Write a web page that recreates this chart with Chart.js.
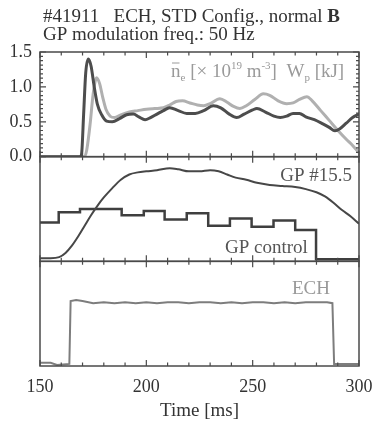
<!DOCTYPE html>
<html>
<head>
<meta charset="utf-8">
<script src="https://cdn.jsdelivr.net/npm/chart.js@4/dist/chart.umd.min.js"></script>
<style>
  html, body { margin: 0; padding: 0; background: #fff; }
</style>
</head>
<body>
<canvas id="myChart" width="372" height="423"></canvas>
<script>
// top panel: line-averaged density (dark) and stored energy (light)
const neTime  = [150, 169, 169.6, 170.5, 171.5, 172.7, 174, 175.5, 177, 179, 181.3, 184, 187.6, 190.7, 193.9, 196.5, 199.4, 202, 205, 208, 211, 215, 219, 223, 227, 231.5, 235, 239, 242.5, 246, 250, 252, 256, 260, 263, 266, 269, 272, 275, 279, 283, 286, 288.7, 291, 294, 297, 300];
const neValue = [0, 0, 0.05, 0.6, 1.2, 1.4, 1.3, 1.0, 0.75, 0.6, 0.51, 0.5, 0.55, 0.6, 0.61, 0.57, 0.53, 0.56, 0.61, 0.66, 0.7, 0.66, 0.62, 0.62, 0.66, 0.73, 0.7, 0.61, 0.56, 0.61, 0.67, 0.69, 0.64, 0.58, 0.56, 0.58, 0.62, 0.62, 0.57, 0.53, 0.47, 0.42, 0.37, 0.4, 0.48, 0.56, 0.61];
const wpTime  = [150, 171, 172, 173.5, 175, 176.6, 178, 179.5, 181, 183, 185, 188, 192, 196, 200, 204, 208, 211, 214, 217, 220.5, 224, 227, 230, 234.6, 238, 241, 244, 247, 251, 255, 258, 262, 266, 269, 272, 275.5, 278, 282, 286, 290, 294, 297, 300];
const wpValue = [0, 0, 0.1, 0.45, 0.9, 1.13, 1.05, 0.85, 0.68, 0.58, 0.56, 0.6, 0.64, 0.66, 0.68, 0.69, 0.7, 0.74, 0.79, 0.8, 0.77, 0.74, 0.73, 0.76, 0.83, 0.78, 0.72, 0.69, 0.73, 0.82, 0.9, 0.88, 0.8, 0.76, 0.77, 0.82, 0.86, 0.8, 0.66, 0.52, 0.38, 0.25, 0.16, 0.06];

// middle panel: gas puff signal and gas puff control (a.u.)
const gpTime  = [150, 155, 159, 162, 165, 168, 171, 174, 177, 180, 184, 188, 192, 196, 200, 205, 211, 215, 220, 225, 230, 234, 238, 242, 247, 252, 258, 264, 270, 275, 280, 284, 288, 292, 296, 300];
const gpValue = [0.03, 0.03, 0.04, 0.08, 0.15, 0.24, 0.34, 0.44, 0.53, 0.61, 0.7, 0.78, 0.83, 0.85, 0.86, 0.87, 0.89, 0.88, 0.86, 0.86, 0.87, 0.86, 0.83, 0.8, 0.78, 0.75, 0.73, 0.72, 0.71, 0.69, 0.66, 0.62, 0.56, 0.49, 0.43, 0.36];
const gpCtrlTime  = [150, 158.8, 168.8, 188.4, 198.8, 208.6, 219, 229.1, 239.3, 249.5, 259.8, 270, 279.8, 300];
const gpCtrlValue = [0.37, 0.47, 0.5, 0.44, 0.48, 0.4, 0.46, 0.34, 0.41, 0.33, 0.39, 0.3, 0.02, 0.02];

// bottom panel: ECH power (a.u.)
const echTime  = [150, 155, 158, 163.8, 164.4, 167, 170, 175, 180, 185, 190, 195, 200, 205, 210, 215, 220, 225, 230, 235, 240, 245, 250, 255, 260, 265, 270, 275, 280, 285, 287.5, 288.3, 292, 300];
const echValue = [0.03, 0.03, 0.01, 0.02, 0.62, 0.63, 0.62, 0.6, 0.61, 0.6, 0.61, 0.6, 0.61, 0.6, 0.61, 0.61, 0.6, 0.61, 0.61, 0.6, 0.61, 0.6, 0.61, 0.61, 0.6, 0.61, 0.6, 0.61, 0.61, 0.61, 0.6, 0.02, 0.02, 0.02];

const timeTicks = [150, 200, 250, 300];
const topTicks = [0, 0.5, 1.0, 1.5];

const serif = 'Liberation Serif';
const dark = '#4a4a4a';

function pts(xs, ys) {
    return xs.map((x, i) => ({ x: x, y: ys[i] }));
}

function lineSet(data, color, width, yAxisID, extra) {
    return Object.assign({
        data: data,
        borderColor: color,
        borderWidth: width,
        pointRadius: 0,
        fill: false,
        yAxisID: yAxisID,
        cubicInterpolationMode: 'monotone'
    }, extra || {});
}

// draws text made of runs with sub/superscripts
function drawRuns(ctx, x, y, runs, color, base) {
    ctx.fillStyle = color;
    ctx.textBaseline = 'alphabetic';
    ctx.textAlign = 'left';
    runs.forEach(r => {
        ctx.font = (r.bold ? 'bold ' : '') + (r.size || base) + 'px "' + serif + '"';
        ctx.fillText(r.t, x, y + (r.dy || 0));
        const w = ctx.measureText(r.t).width;
        if (r.bar) {
            ctx.save();
            ctx.strokeStyle = color;
            ctx.lineWidth = 1;
            ctx.beginPath();
            ctx.moveTo(x + 1, y - 14);
            ctx.lineTo(x + w - 1, y - 14);
            ctx.stroke();
            ctx.restore();
        }
        x += w;
    });
}

const panelFrames = {
    id: 'panelFrames',
    afterDatasetsDraw(chart) {
        const { ctx, chartArea: a, scales } = chart;
        const xs = scales.x;
        const panels = [scales.yTop, scales.yMid, scales.yBot];
        ctx.save();
        ctx.strokeStyle = dark;
        ctx.lineWidth = 1.5;
        panels.forEach(s => {
            ctx.strokeRect(a.left, s.top, a.right - a.left, s.bottom - s.top);
        });

        ctx.lineWidth = 1.2;
        ctx.beginPath();
        for (let t = 150; t <= 300; t += 10) {
            const px = xs.getPixelForValue(t);
            const len = t % 50 === 0 ? 6 : 3.5;
            ctx.moveTo(px, panels[0].top);
            ctx.lineTo(px, panels[0].top + len);
            [panels[0].bottom, panels[1].bottom].forEach(yy => {
                ctx.moveTo(px, yy - len);
                ctx.lineTo(px, yy + len);
            });
            ctx.moveTo(px, panels[2].bottom);
            ctx.lineTo(px, panels[2].bottom - len);
        }
        // 8 minor steps per 0.5 on the top panel
        for (let i = 0; i <= 24; i++) {
            const py = panels[0].getPixelForValue(i / 16);
            const len = i % 8 === 0 ? 6 : 3;
            ctx.moveTo(a.left, py);
            ctx.lineTo(a.left + len, py);
            ctx.moveTo(a.right, py);
            ctx.lineTo(a.right - len, py);
        }
        ctx.stroke();
        ctx.restore();
    },
    afterDraw(chart) {
        const ctx = chart.ctx;
        ctx.save();
        drawRuns(ctx, 43, 22, [
            { t: '#41911   ECH, STD Config., normal ' },
            { t: 'B', bold: true }
        ], '#333', 19);
        drawRuns(ctx, 43, 40, [{ t: 'GP modulation freq.: 50 Hz' }], '#333', 19);

        drawRuns(ctx, 171, 77, [
            { t: 'n', bar: true },
            { t: 'e', size: 11, dy: 4 },
            { t: ' [× 10' },
            { t: '19', size: 11, dy: -8 },
            { t: ' m' },
            { t: '-3', size: 11, dy: -8 },
            { t: ']  W' },
            { t: 'p', size: 11, dy: 4 },
            { t: ' [kJ]' }
        ], '#9a9a9a', 19);

        ctx.font = '19px "' + serif + '"';
        ctx.textAlign = 'right';
        ctx.fillStyle = '#555';
        ctx.fillText('GP #15.5', 352, 181);
        ctx.textAlign = 'left';
        ctx.fillText('GP control', 225, 253);
        ctx.textAlign = 'right';
        ctx.fillStyle = '#999';
        ctx.fillText('ECH', 330, 294);
        ctx.restore();
    }
};

function fixWidth(w) {
    return function (scale) {
        scale.width = w;
        scale.paddingTop = 0;
        scale.paddingBottom = 0;
    };
}

const ctx = document.getElementById('myChart').getContext('2d');

const chart = new Chart(ctx, {
    type: 'line',
    data: {
        datasets: [
            lineSet(pts(neTime, neValue), '#4d4d4d', 3, 'yTop'),
            lineSet(pts(wpTime, wpValue), '#b0b0b0', 3, 'yTop'),
            lineSet(pts(gpTime, gpValue), '#474747', 2, 'yMid'),
            lineSet(pts(gpCtrlTime, gpCtrlValue), '#3f3f3f', 2.5, 'yMid', { stepped: 'before' }),
            lineSet(pts(echTime, echValue), '#7d7d7d', 2, 'yBot', { cubicInterpolationMode: 'default', tension: 0 })
        ]
    },
    options: {
        responsive: false,
        devicePixelRatio: 1,
        animation: false,
        layout: { padding: { top: 52, right: 13, left: 0, bottom: 0 } },
        plugins: {
            legend: { display: false },
            tooltip: { enabled: false }
        },
        scales: {
            x: {
                type: 'linear',
                position: 'bottom',
                min: 150,
                max: 300,
                afterFit: function (scale) {
                    scale.height = 57;
                    scale.paddingLeft = 0;
                    scale.paddingRight = 0;
                },
                afterBuildTicks: function (scale) {
                    scale.ticks = timeTicks.map(v => ({ value: v }));
                },
                grid: { display: false, drawTicks: false },
                border: { display: false },
                ticks: {
                    padding: 10,
                    autoSkip: false,
                    color: '#333',
                    maxRotation: 0,
                    font: { family: serif, size: 18 }
                },
                title: {
                    display: true,
                    text: 'Time [ms]',
                    color: '#333',
                    padding: { top: 0, bottom: 1 },
                    font: { family: serif, size: 19 }
                }
            },
            yTop: {
                type: 'linear',
                position: 'left',
                stack: 'panels',
                stackWeight: 1,
                weight: 3,
                min: 0,
                max: 1.5,
                afterFit: fixWidth(40),
                afterBuildTicks: function (scale) {
                    scale.ticks = topTicks.map(v => ({ value: v }));
                },
                grid: { display: false, drawTicks: false },
                border: { display: false },
                ticks: {
                    padding: 8,
                    autoSkip: false,
                    color: '#333',
                    font: { family: serif, size: 18 },
                    callback: v => v.toFixed(1)
                }
            },
            yMid: {
                type: 'linear',
                position: 'left',
                stack: 'panels',
                stackWeight: 1,
                weight: 2,
                min: 0,
                max: 1,
                afterFit: fixWidth(40),
                grid: { display: false, drawTicks: false },
                border: { display: false },
                ticks: { display: false }
            },
            yBot: {
                type: 'linear',
                position: 'left',
                stack: 'panels',
                stackWeight: 1,
                weight: 1,
                min: 0,
                max: 1,
                afterFit: fixWidth(40),
                grid: { display: false, drawTicks: false },
                border: { display: false },
                ticks: { display: false }
            }
        }
    },
    plugins: [panelFrames]
});
</script>
</body>
</html>
